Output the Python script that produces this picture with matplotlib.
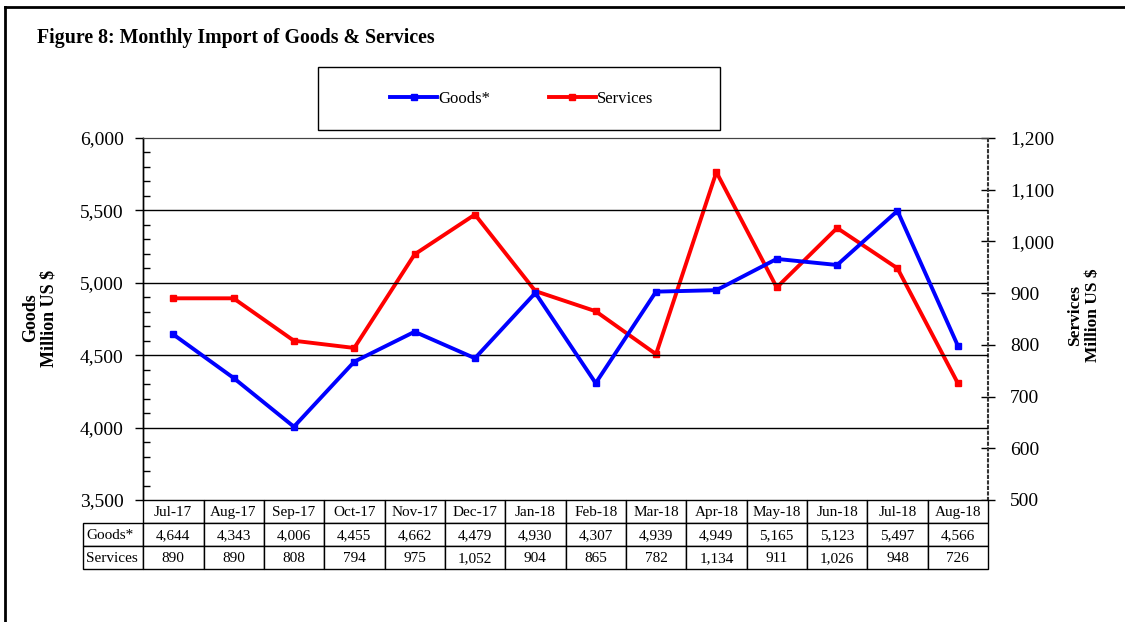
import matplotlib
matplotlib.use("Agg")
import matplotlib.pyplot as plt
import matplotlib.transforms as mtransforms
from matplotlib.lines import Line2D
from matplotlib.patches import Rectangle
from matplotlib.ticker import MultipleLocator, FuncFormatter

plt.rcParams["font.family"] = ["Liberation Serif", "DejaVu Serif"]

months = ["Jul-17", "Aug-17", "Sep-17", "Oct-17", "Nov-17", "Dec-17", "Jan-18",
          "Feb-18", "Mar-18", "Apr-18", "May-18", "Jun-18", "Jul-18", "Aug-18"]
goods = [4644, 4343, 4006, 4455, 4662, 4479, 4930, 4307, 4939, 4949, 5165, 5123, 5497, 4566]
services = [890, 890, 808, 794, 975, 1052, 904, 865, 782, 1134, 911, 1026, 948, 726]
row_names = ["Goods*", "Services"]

W, H = 1125, 622
fig = plt.figure(figsize=(W / 100, H / 100), dpi=100)

# axes box in pixels: x 143..988, y 138..500
L, R, T, B = 143, 988, 138, 500
ax = fig.add_axes([L / W, 1 - B / H, (R - L) / W, (B - T) / H])
ax2 = ax.twinx()

x = list(range(len(months)))
comma = FuncFormatter(lambda v, p: f"{v:,.0f}")

ax.set_xlim(-0.5, len(months) - 0.5)
ax.set_ylim(3500, 6000)
ax.yaxis.set_major_locator(MultipleLocator(500))
ax.yaxis.set_minor_locator(MultipleLocator(100))
ax.yaxis.set_major_formatter(comma)
ax.tick_params(axis="y", which="major", direction="out", length=6, width=1, labelsize=14, pad=8)
ax.tick_params(axis="y", which="minor", direction="in", length=5, width=1)
ax.tick_params(axis="x", bottom=False, labelbottom=False)
for yv in [4000, 4500, 5000, 5500]:
    ax.axhline(yv, color="black", lw=1, zorder=1)

ax2.set_ylim(500, 1200)
ax2.yaxis.set_major_locator(MultipleLocator(100))
ax2.yaxis.set_major_formatter(comma)
ax2.tick_params(axis="y", direction="inout", length=10, width=1, labelsize=14, pad=11)

for a in (ax, ax2):
    a.spines["top"].set_color("#444444")
    a.spines["left"].set_linewidth(1)
    a.spines["bottom"].set_visible(False)
ax2.spines["right"].set_linestyle(":")
ax2.spines["right"].set_linewidth(1.5)
ax2.spines["right"].set_color("#333333")
ax.spines["right"].set_visible(False)

ax.plot(x, goods, color="#0000ff", lw=2.8, marker="s", ms=5, zorder=3)
ax2.plot(x, services, color="#ff0000", lw=2.8, marker="s", ms=5, zorder=3)
ax.set_zorder(ax2.get_zorder() + 1)
ax.patch.set_visible(False)

# data table under the plot: grid from ax.table, text placed on a common baseline
row_px = 23
tbl_h = 3 * row_px / (B - T)
lab_w = 60 / (R - L)
blank = [[""] * (len(months) + 1) for _ in row_names]
tbl = ax.table(cellText=blank, colLabels=[""] * (len(months) + 1),
               bbox=[-lab_w, -tbl_h, 1 + lab_w, tbl_h])
for (r, c), cell in tbl.get_celld().items():
    cell.set_linewidth(1)
    if r == 0 and c == 0:
        cell.visible_edges = ""

trans = mtransforms.blended_transform_factory(ax.transData, ax.transAxes)
col_unit = (R - L) / len(months)
label_x = -0.5 - 60 / col_unit + 0.05
table_rows = [months, [f"{v:,}" for v in goods], [f"{v:,}" for v in services]]
for r, vals in enumerate(table_rows):
    y_base = -((r + 0.5) * row_px + 4.5) / (B - T)
    if r > 0:
        ax.text(label_x, y_base, row_names[r - 1], transform=trans, ha="left",
                va="baseline", fontsize=11, clip_on=False)
    for i, s in enumerate(vals):
        ax.text(i, y_base, s, transform=trans, ha="center", va="baseline",
                fontsize=11, clip_on=False)

# axis titles
fig.text(40 / W, 1 - 318 / H, "Goods\nMillion US $", rotation=90, ha="center", va="center",
         fontsize=13, fontweight="bold", multialignment="center", linespacing=1.1)
fig.text(1084 / W, 1 - 315 / H, "Services\nMillion US $", rotation=90, ha="center", va="center",
         fontsize=12.5, fontweight="bold", multialignment="center", linespacing=1.1)

# title
fig.text(37 / W, 1 - 38 / H, "Figure 8: Monthly Import of Goods & Services",
         fontsize=14.3, fontweight="bold", ha="left", va="center")

# legend in its own box
fig.patches.append(Rectangle((318 / W, 1 - 130 / H), 402 / W, 63 / H, transform=fig.transFigure,
                             fill=False, edgecolor="black", lw=1))
handles = [Line2D([], [], color="#0000ff", lw=2.8, marker="s", ms=5),
           Line2D([], [], color="#ff0000", lw=2.8, marker="s", ms=5)]
fig.legend(handles, ["Goods*", "Services"], loc="center", bbox_to_anchor=(522 / W, 1 - 99 / H),
           ncol=2, frameon=False, fontsize=12, handlelength=2.8, handletextpad=0.1,
           columnspacing=3.5)

# outer frame: top and left edges only
fig.add_artist(Line2D([5 / W, 5 / W], [0, 1 - 7 / H], color="black", lw=2, transform=fig.transFigure))
fig.add_artist(Line2D([5 / W, 1], [1 - 7 / H, 1 - 7 / H], color="black", lw=2, transform=fig.transFigure))

fig.savefig("out.png", dpi=100)
